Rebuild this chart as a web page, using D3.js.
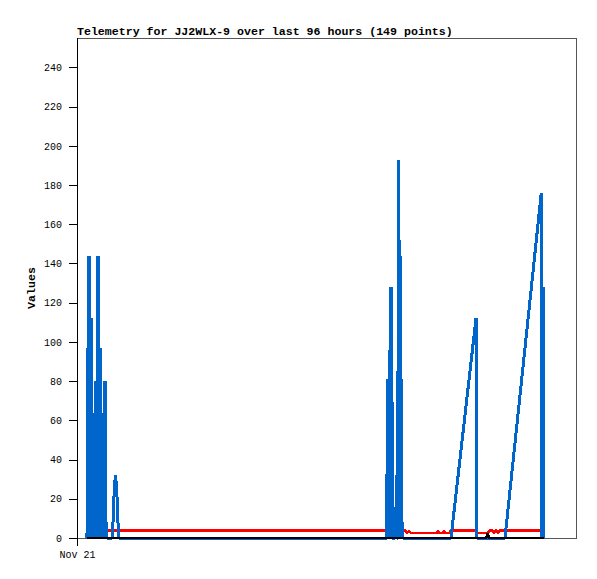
<!DOCTYPE html>
<html><head><meta charset="utf-8">
<script src="https://cdn.jsdelivr.net/npm/d3@7"></script>
<style>body{margin:0;background:#fff}svg{display:block}</style>
</head><body>
<script>
const title = "Telemetry for JJ2WLX-9 over last 96 hours (149 points)";
const yLabel = "Values";
const yTicks = [0,20,40,60,80,100,120,140,160,180,200,220,240];
const xTickLabels = ["Nov 21"];
const startTime = new Date(2024,10,21,0,0);
// time of each reading, hours since Nov 21 00:00
const blueHours = [
 1.920,2.016,2.112,2.208,2.304,2.362,2.458,2.496,2.592,2.688,2.784,2.842,2.938,3.034,3.130,3.226,3.322,3.379,3.475,3.533,3.629,3.706,3.802,3.840,3.917,3.994,4.090,4.186,4.282,4.358,4.454,4.531,4.627,4.685,4.781,4.858,4.954,5.030,5.126,5.222,5.318,5.414,5.510,5.606,5.702,
 6.720,6.874,7.027,7.181,7.392,7.603,7.757,7.910,8.064,
 59.462,59.539,59.616,59.712,59.808,59.866,59.962,60.019,60.096,60.192,60.288,60.326,60.403,60.461,60.538,61.018,61.094,61.171,61.248,61.325,61.402,61.478,61.594,61.690,61.747,61.843,61.901,61.997,62.054,62.150,62.208,62.285,62.362,62.458,62.554,
 71.808,76.608,76.762,82.176,89.146,89.242,89.338,89.434,89.530,89.626,89.664];
const blueValues = [
 0,97,0,144,0,144,0,112,0,112,0,64,0,64,0,41,0,41,0,80,0,80,0,64,0,144,0,144,0,97,0,97,0,64,0,64,0,41,0,80,0,80,0,8,0,
 0,5,16,26,32,26,16,5,0,
 0,41,0,81,0,81,0,96,0,128,0,128,0,96,0,0,16,0,16,0,32,0,0,193,0,152,0,144,0,144,0,81,0,8,0,
 0,112,0,0,176,0,128,0,128,0,128];
const redHours = [4.934,63.168,63.360,63.744,64.128,69.120,69.312,69.504,70.272,70.464,70.656,71.424,71.712,76.608,76.800,78.912,79.104,79.872,80.064,80.256,80.640,80.832,81.024,89.184];
const redValues = [3.7,3.7,2.5,3.7,2.5,2.5,3.7,2.5,2.5,3.7,2.5,2.5,3.7,3.7,2.5,2.5,3.7,3.7,2.5,3.7,3.7,2.5,3.7,3.7];
const blackHours = [1.920,78.528,78.912,79.027,89.587];
const blackValues = [0,0,2.5,0,0];

const W=597,H=579, L=77,R=577,T=38,B=538;
const svg=d3.select("body").append("svg").attr("width",W).attr("height",H);
const hour=h=>new Date(startTime.getTime()+h*3600e3);
const x=d3.scaleTime().domain([startTime,hour(96)]).range([L,R]);
const y=d3.scaleLinear().domain([0,255]).range([B,T]);
const mono="'Liberation Mono','DejaVu Sans Mono',monospace";

svg.append("rect").attr("x",L+0.5).attr("y",T+0.5).attr("width",R-L-1).attr("height",B-T).attr("fill","none").attr("stroke","#555").attr("stroke-width",1);

const yAxis=d3.axisLeft(y).tickValues(yTicks).tickSize(8).tickPadding(7).tickFormat(d3.format("d"));
const gy=svg.append("g").attr("transform",`translate(${L},0)`).call(yAxis);
gy.select(".domain").remove();
gy.selectAll("line").attr("stroke","#000").attr("shape-rendering","crispEdges");
gy.selectAll("text").attr("font-family",mono).attr("font-size",10).attr("fill","#000");
svg.append("line").attr("x1",L+0.5).attr("x2",L+0.5).attr("y1",T).attr("y2",B+8).attr("stroke","#000");

const xAxis=d3.axisBottom(x).tickValues([startTime]).tickSize(7).tickPadding(6).tickFormat((d,i)=>xTickLabels[i]);
const gx=svg.append("g").attr("transform",`translate(0,${B})`).call(xAxis);
gx.select(".domain").remove();
gx.selectAll("line").attr("stroke","#000").attr("shape-rendering","crispEdges");
gx.selectAll("text").attr("font-family",mono).attr("font-size",10).attr("fill","#000");

svg.append("text").attr("x",L).attr("y",35).text(title)
 .attr("font-family",mono).attr("font-size",11.6).attr("font-weight","bold");
svg.append("text").attr("transform","translate(35,288) rotate(-90)").attr("text-anchor","middle").text(yLabel)
 .attr("font-family",mono).attr("font-size",11.6).attr("font-weight","bold");

const line=d3.line().x(d=>x(hour(d[0]))).y(d=>y(d[1]));
const series=[[redHours,redValues,"#ff0000",2.5],[blueHours,blueValues,"#0066cc",3],[blackHours,blackValues,"#000000",2.5]];
series.forEach(([hs,vs,c,w])=>{
  svg.append("path").datum(d3.zip(hs,vs)).attr("d",line).attr("fill","none").attr("stroke",c)
   .attr("stroke-width",w).attr("stroke-linejoin","miter").attr("stroke-miterlimit",1).attr("shape-rendering","crispEdges");
});
</script>
</body></html>
